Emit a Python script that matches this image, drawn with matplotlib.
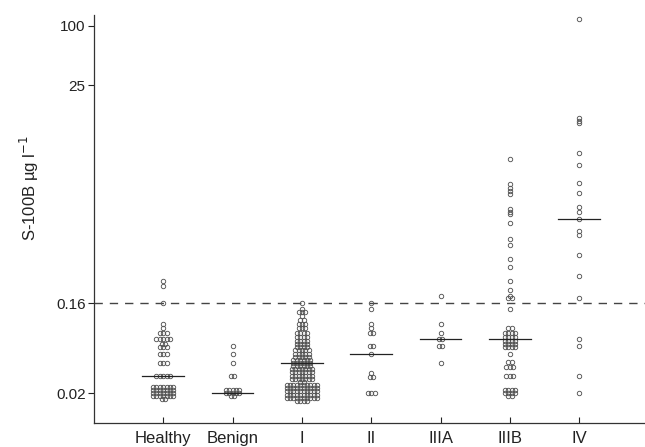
import math
import matplotlib
matplotlib.use('Agg')
import matplotlib.pyplot as plt

plt.rcParams['font.family'] = ['Liberation Sans', 'DejaVu Sans']

groups = ['Healthy', 'Benign', 'I', 'II', 'IIIA', 'IIIB', 'IV']

# S-100B values (ug/l) and how many patients sit at each value
healthy_vals = [0.02, 0.03, 0.04, 0.05, 0.058, 0.063, 0.07, 0.08, 0.09, 0.10, 0.16, 0.24, 0.27]
healthy_counts = [30, 5, 3, 3, 3, 2, 5, 3, 1, 1, 1, 1, 1]

benign_vals = [0.02, 0.03, 0.04, 0.05, 0.06]
benign_counts = [12, 2, 1, 1, 1]

stage1_vals = [0.02, 0.03, 0.04, 0.05, 0.06, 0.07, 0.08, 0.09, 0.10, 0.11, 0.12, 0.13, 0.14, 0.16]
stage1_counts = [54, 30, 18, 15, 8, 8, 4, 3, 3, 2, 1, 3, 1, 1]

stage2_vals = [0.02, 0.029, 0.032, 0.05, 0.06, 0.08, 0.09, 0.10, 0.14, 0.16]
stage2_counts = [3, 2, 1, 1, 2, 2, 1, 1, 1, 1]

stage3a_vals = [0.04, 0.06, 0.07, 0.08, 0.10, 0.19]
stage3a_counts = [1, 2, 2, 1, 1, 1]

stage3b_vals = [0.02, 0.03, 0.037, 0.041, 0.05, 0.06, 0.07, 0.08, 0.09, 0.14, 0.18, 0.19,
                0.22, 0.27, 0.37, 0.45, 0.62, 0.72, 1.04, 1.28, 1.34, 1.43,
                2.03, 2.17, 2.33, 2.55, 4.55]
stage3b_counts = [10, 3, 3, 2, 1, 8, 8, 4, 2, 1, 2, 1,
                  1, 1, 1, 1, 1, 1, 1, 1, 1, 1,
                  1, 1, 1, 1, 1]

stage4_vals = [0.02, 0.03, 0.06, 0.07, 0.18, 0.30, 0.49, 0.78, 0.85, 1.13, 1.33, 1.49,
               2.06, 2.6, 4.0, 5.2, 10.4, 10.9, 11.7, 116]
stage4_counts = [1] * len(stage4_vals)

medians = [0.03, 0.02, 0.04, 0.05, 0.07, 0.07, 1.13]
cutoff = 0.16

all_vals = [healthy_vals, benign_vals, stage1_vals, stage2_vals, stage3a_vals, stage3b_vals, stage4_vals]
all_counts = [healthy_counts, benign_counts, stage1_counts, stage2_counts, stage3a_counts,
              stage3b_counts, stage4_counts]

fig = plt.figure(figsize=(6.45, 4.47), dpi=100)
ax = fig.add_axes([0.1457, 0.0537, 0.8543, 0.9127])
ax.set_yscale('log')
ax.set_xlim(0, 7.95)
ax.set_ylim(0.01, 128)

DX, DY = 3.4, 3.2  # pixel pitch of the dots


def offsets(n):
    cols = n if n <= 5 else math.ceil(math.sqrt(1.6 * n))
    rows = math.ceil(n / cols)
    out = []
    left = n
    for r in range(rows):
        k = min(cols, left)
        left -= k
        for i in range(k):
            out.append(((i - (k - 1) / 2) * DX, (r - (rows - 1) / 2) * DY))
    return out


inv = ax.transData.inverted()
for gi, (vals, counts) in enumerate(zip(all_vals, all_counts)):
    xc = gi + 1
    xs, ys = [], []
    for v, n in zip(vals, counts):
        bx, by = ax.transData.transform((xc, v))
        for ox, oy in offsets(n):
            px, py = inv.transform((bx + ox, by - oy))
            xs.append(px)
            ys.append(py)
    ax.plot(xs, ys, 'o', ms=3.2, mfc='none', mec='#555555', mew=0.65, zorder=3)
    ax.plot([xc - 0.3, xc + 0.3], [medians[gi], medians[gi]], color='#222222', lw=0.9, zorder=4)

ax.axhline(cutoff, color='#444444', lw=1, dashes=(6, 5), zorder=2)

ax.set_yticks([0.02, 0.16, 25, 100])
ax.set_yticklabels(['0.02', '0.16', '25', '100'])
ax.yaxis.set_minor_locator(matplotlib.ticker.NullLocator())
ax.set_xticks(range(1, 8))
ax.set_xticklabels(groups)
ax.tick_params(axis='y', direction='out', length=4, width=0.8, labelsize=11, pad=2,
               colors='#222222')
ax.tick_params(axis='x', direction='in', length=4, width=0.8, labelsize=12, pad=6,
               colors='#222222')
ax.set_ylabel('S-100B µg l$^{-1}$', fontsize=12, color='#222222')
ax.yaxis.set_label_coords(-0.097, 0.576)

for s in ['top', 'right']:
    ax.spines[s].set_visible(False)
for s in ['left', 'bottom']:
    ax.spines[s].set_color('#333333')
    ax.spines[s].set_linewidth(0.9)

fig.savefig('out.png', dpi=100)
